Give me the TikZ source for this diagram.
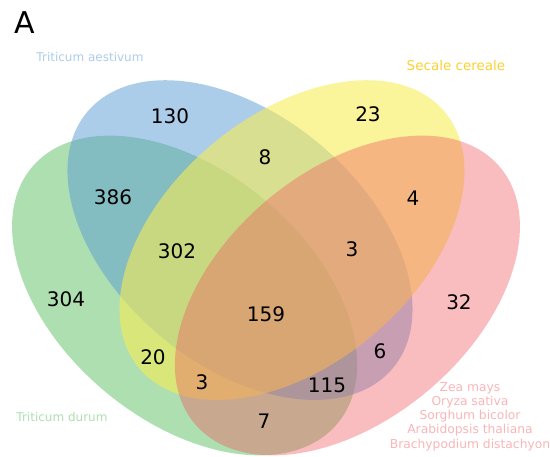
\documentclass[tikz,border=0pt]{standalone}
\usepackage{fontspec}
\setmainfont{DejaVu Sans}
\usepackage{tikz}

\definecolor{setgreen}{RGB}{92,192,98}
\definecolor{setblue}{RGB}{90,155,212}
\definecolor{setyellow}{RGB}{246,236,86}
\definecolor{setred}{RGB}{241,90,96}
\definecolor{secalegold}{RGB}{250,208,50}

\tikzset{
	count/.style={font=\fontsize{20}{24}\selectfont, text=black},
	setname/.style={font=\fontsize{12}{14.2}\selectfont, align=center},
	setshape/.style={x radius=199.4pt, y radius=124.7pt}
}

\begin{document}
\begin{tikzpicture}[x=1pt, y=1pt]
				\useasboundingbox (0,0) rectangle (550,457);
				% the four sets
				\fill[setgreen, opacity=0.5, shift={(184.6,161.5)}, rotate=-40] (0,0) ellipse [setshape];
				\fill[setblue, opacity=0.5, shift={(240.0,216.9)}, rotate=-40] (0,0) ellipse [setshape];
				\fill[setyellow, opacity=0.6, shift={(292.0,216.9)}, rotate=40] (0,0) ellipse [setshape];
				\fill[setred, opacity=0.4, shift={(347.4,161.5)}, rotate=40] (0,0) ellipse [setshape];
				
				% counts
				\node[count] (n0100) at (170,341) {130};
				\node[count] (n0010) at (368,343) {23};
				\node[count] (n0110) at (265,300) {8};
				\node[count] (n1100) at (113,260) {386};
				\node[count] (n0011) at (413,259) {4};
				\node[count] (n1110) at (177,206) {302};
				\node[count] (n0111) at (352,208) {3};
				\node[count] (n1000) at (66,158) {304};
				\node[count] (n1111) at (266,143) {159};
				\node[count] (n0001) at (459,155) {32};
				\node[count] (n1010) at (153,100) {20};
				\node[count] (n0101) at (380,106) {6};
				\node[count] (n1011) at (202,75) {3};
				\node[count] (n1101) at (327,72) {115};
				\node[count] (n1001) at (264,36) {7};
				
				% set names
				\node[font=\fontsize{30}{34}\selectfont] (panel) at (25,434) {A};
				\node[setname, text=setblue!50] (aestivum) at (90,400) {Triticum aestivum};
				\node[setname, text=secalegold, font=\fontsize{13.5}{16}\selectfont] (secale) at (456,392) {Secale cereale};
				\node[setname, text=setgreen!50] (durum) at (62,40) {Triticum durum};
				\node[setname, text=setred!45, font=\fontsize{12.3}{14.2}\selectfont] (others) at (470,40.5) {Zea mays\\Oryza sativa\\Sorghum bicolor\\Arabidopsis thaliana\\Brachypodium distachyon};
			\end{tikzpicture}
\end{document}
